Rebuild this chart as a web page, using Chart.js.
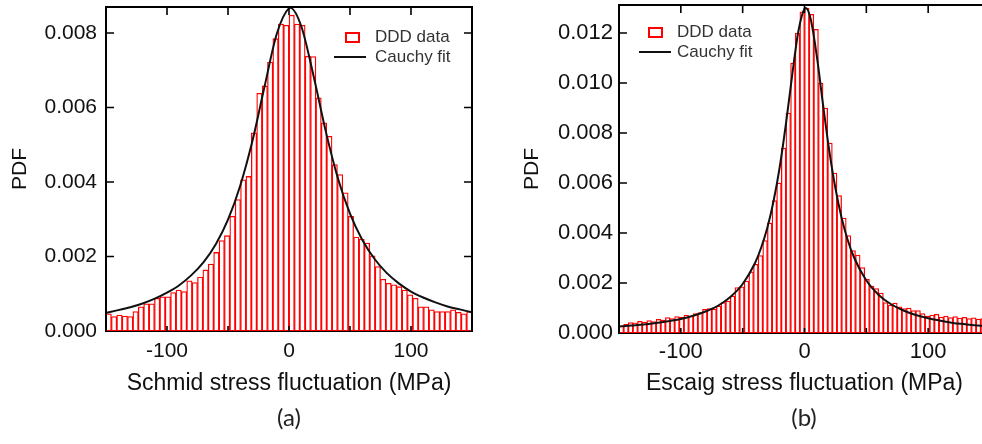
<!DOCTYPE html>
<html>
<head>
<meta charset="utf-8">
<script src="https://cdn.jsdelivr.net/npm/chart.js@4.4.1/dist/chart.umd.min.js"></script>
<style>
html,body{margin:0;padding:0;overflow:hidden;background:#fff;}
body{width:982px;height:444px;position:relative;}
.panel{position:absolute;top:0;height:444px;}
.lg{position:absolute;font-family:'Liberation Sans',Arial,sans-serif;font-size:17px;color:#333;line-height:18px;white-space:nowrap;}
.sq{position:absolute;border:2px solid #ff0000;box-sizing:border-box;background:#fff;}
.ln{position:absolute;height:2px;background:#111;}
.lbl{position:absolute;font-family:Lato,'Open Sans',sans-serif;font-size:24px;color:#222;transform:translate(-50%,-50%);white-space:nowrap;}
</style>
</head>
<body>
<div class="panel" style="left:0;width:490px"><canvas id="chartA"></canvas></div>
<div class="panel" style="left:510px;width:500px"><canvas id="chartB"></canvas></div>

<div class="sq" style="left:345px;top:32px;width:15px;height:11px"></div>
<div class="lg" style="left:375px;top:28px">DDD data</div>
<div class="ln" style="left:334px;top:56px;width:32px"></div>
<div class="lg" style="left:375px;top:48px">Cauchy fit</div>

<div class="sq" style="left:648px;top:27px;width:15px;height:11px"></div>
<div class="lg" style="left:677px;top:23px">DDD data</div>
<div class="ln" style="left:639px;top:51px;width:32px"></div>
<div class="lg" style="left:677px;top:43px">Cauchy fit</div>

<div class="lbl" style="left:289px;top:416px">(a)</div>
<div class="lbl" style="left:804px;top:416px">(b)</div>

<script>
// ---------- Panel (a): Schmid stress ----------
const binLoA = -150, binHiA = 150;
const barsA = [
  0.00046,0.00039,0.00043,0.00040,0.00039,0.00052,0.00065,0.00073,0.00073,0.00088,
  0.00092,0.00092,0.00103,0.00110,0.00106,0.00135,0.00130,0.00145,0.00164,0.00180,
  0.00211,0.00243,0.00256,0.00308,0.00353,0.00406,0.00415,0.00532,0.00638,0.00658,
  0.00722,0.00785,0.00824,0.00821,0.00848,0.00824,0.00821,0.00738,0.00737,0.00626,
  0.00559,0.00523,0.00447,0.00420,0.00371,0.00308,0.00252,0.00247,0.00236,0.00202,
  0.00173,0.00139,0.00128,0.00124,0.00119,0.00110,0.00097,0.00088,0.00065,0.00065,
  0.00057,0.00052,0.00052,0.00052,0.00057,0.00050,0.00046,0.00052
];
const fitXA = [-150,-140,-130,-120,-110,-100,-90,-80,-70,-60,-50,-40,-30,-20,-10,0,1,10,20,30,40,50,60,70,80,90,100,110,120,130,140,150];
const fitYA = [0.00049,0.00056,0.00064,0.00074,0.00087,0.00103,0.00123,0.00150,0.00185,0.00233,0.00299,0.00390,0.00510,0.00657,0.00798,0.00867,0.00868,0.00819,0.00687,0.00538,0.00411,0.00315,0.00245,0.00194,0.00156,0.00128,0.00106,0.00090,0.00077,0.00066,0.00058,0.00050];

// ---------- Panel (b): Escaig stress ----------
const binLoB = -150, binHiB = 150;
const barsB = [
  0.00028,0.00035,0.00042,0.00041,0.00047,0.00044,0.00050,0.00046,0.00055,0.00052,
  0.00062,0.00058,0.00066,0.00063,0.00072,0.00068,0.00078,0.00082,0.00095,0.00098,
  0.00096,0.00108,0.00122,0.00128,0.00148,0.00182,0.00185,0.00208,0.00245,0.00275,
  0.00310,0.00370,0.00440,0.00530,0.00600,0.00740,0.00880,0.01080,0.01200,0.01285,
  0.01300,0.01275,0.01215,0.01000,0.00900,0.00760,0.00640,0.00550,0.00460,0.00390,
  0.00330,0.00312,0.00262,0.00215,0.00188,0.00178,0.00160,0.00122,0.00112,0.00120,
  0.00105,0.00098,0.00100,0.00090,0.00090,0.00078,0.00068,0.00072,0.00075,0.00064,
  0.00068,0.00062,0.00066,0.00060,0.00063,0.00058,0.00061,0.00056,0.00058,0.00054
];
const fitXB = [-150,-140,-130,-120,-110,-100,-90,-80,-70,-60,-50,-40,-35,-30,-25,-20,-15,-10,-5,0,1,5,10,15,20,25,30,35,40,50,60,70,80,90,100,110,120,130,140,150];
const fitYB = [0.00026,0.00030,0.00034,0.00040,0.00047,0.00056,0.00069,0.00086,0.00109,0.00144,0.00196,0.00280,0.00342,0.00422,0.00528,0.00665,0.00837,0.01030,0.01206,0.01297,0.01300,0.01256,0.01106,0.00913,0.00730,0.00579,0.00461,0.00371,0.00303,0.00210,0.00152,0.00115,0.00090,0.00072,0.00059,0.00049,0.00040,0.00035,0.00030,0.00026];

const yTicksLabels = v => v.toFixed(3);
const xTickLabels = v => (Math.abs(v) < 150 && Math.round(v) % 100 === 0) ? String(Math.round(v)) : '';

function toBarPoints(lo, hi, vals) {
  const w = (hi - lo) / vals.length;
  return vals.map((v, i) => ({x: lo + (i + 0.5) * w, y: v}));
}
function toPoints(xs, ys) { return xs.map((x, i) => ({x, y: ys[i]})); }

const frameTicks = {
  id: 'frameTicks',
  beforeDatasetsDraw(chart) {
    const {ctx, chartArea: a} = chart;
    ctx.save();
    ctx.strokeStyle = '#000';
    ctx.lineWidth = 2;
    ctx.strokeRect(a.left, a.top, a.right - a.left, a.bottom - a.top);
    ctx.restore();
  },
  afterDatasetsDraw(chart) {
    const {ctx, chartArea: a, scales} = chart;
    const xs = scales.x, ys = scales.y;
    ctx.save();
    ctx.strokeStyle = '#000';
    ctx.lineWidth = 2;
    ctx.beginPath();
    ctx.moveTo(a.left, a.bottom); ctx.lineTo(a.left, a.top); ctx.lineTo(a.right, a.top); ctx.lineTo(a.right, a.bottom);
    ctx.stroke();
    ctx.lineWidth = 1.6;
    ctx.beginPath();
    xs.ticks.forEach(t => {
      if (Math.abs(t.value) >= 150) return;
      const px = xs.getPixelForValue(t.value);
      ctx.moveTo(px, a.top); ctx.lineTo(px, a.top + 8);
      ctx.moveTo(px, a.bottom); ctx.lineTo(px, a.bottom - 5);
    });
    ys.ticks.forEach(t => {
      if (t.value <= 0) return;
      const py = ys.getPixelForValue(t.value);
      ctx.moveTo(a.left, py); ctx.lineTo(a.left + 8, py);
      ctx.moveTo(a.right, py); ctx.lineTo(a.right - 8, py);
    });
    ctx.stroke();
    ctx.restore();
  }
};

const FONT = "'Liberation Sans', Arial, sans-serif";

function makeChart(id, o) {
  return new Chart(document.getElementById(id), {
    type: 'bar',
    data: {
      datasets: [
        {type: 'line', label: 'Cauchy fit', data: toPoints(o.fitX, o.fitY), borderColor: '#111', borderWidth: 2,
         pointRadius: 0, cubicInterpolationMode: 'monotone', fill: false, order: 0},
        {type: 'bar', label: 'DDD data', data: toBarPoints(o.lo, o.hi, o.bars), backgroundColor: '#ffffff',
         borderColor: '#ff0000', borderWidth: o.bw, borderSkipped: false, barPercentage: 1, categoryPercentage: 1, order: 1}
      ]
    },
    options: {
      responsive: true, maintainAspectRatio: false, animation: false,
      layout: {padding: {left: 0, right: o.padR, top: o.padT, bottom: 0}},
      plugins: {legend: {display: false}, tooltip: {enabled: false}},
      scales: {
        x: {
          type: 'linear', min: -150, max: 150, offset: false,
          grid: {display: false, drawTicks: false}, border: {display: false},
          ticks: {stepSize: 50, autoSkip: false, maxRotation: 0, minRotation: 0, padding: o.xtPad, color: '#111',
                  font: {family: FONT, size: o.xfs}, callback: xTickLabels},
          title: {display: true, text: o.xTitle, color: '#111', font: {family: FONT, size: 23},
                  padding: {top: 0, bottom: 47}},
          afterFit: s => { s.height = o.xH; s.paddingLeft = 0; s.paddingRight = 0; }
        },
        y: {
          min: 0, max: o.ymax,
          grid: {display: false, drawTicks: false}, border: {display: false},
          ticks: {stepSize: 0.002, includeBounds: false, padding: o.ytPad, color: '#111',
                  font: {family: FONT, size: o.yfs}, callback: yTicksLabels},
          title: {display: true, text: 'PDF', color: '#111', font: {family: FONT, size: 21},
                  padding: {top: o.ptPad, bottom: 0}},
          afterFit: s => { s.width = o.yW; s.paddingTop = 0; s.paddingBottom = 0; }
        }
      }
    },
    plugins: [frameTicks]
  });
}

makeChart('chartA', {
  bars: barsA, lo: binLoA, hi: binHiA, fitX: fitXA, fitY: fitYA, ymax: 0.0087,
  padR: 18, padT: 7, xH: 113, yW: 106, xtPad: 8, ytPad: 9, xfs: 21, yfs: 21, ptPad: 8, bw: 1.3,
  xTitle: 'Schmid stress fluctuation (MPa)'
});
makeChart('chartB', {
  bars: barsB, lo: binLoB, hi: binHiB, fitX: fitXB, fitY: fitYB, ymax: 0.01312,
  padR: 20, padT: 5, xH: 111, yW: 109, xtPad: 6, ytPad: 6, xfs: 22, yfs: 22, ptPad: 10, bw: 1.3,
  xTitle: 'Escaig stress fluctuation (MPa)'
});
</script>
</body>
</html>
